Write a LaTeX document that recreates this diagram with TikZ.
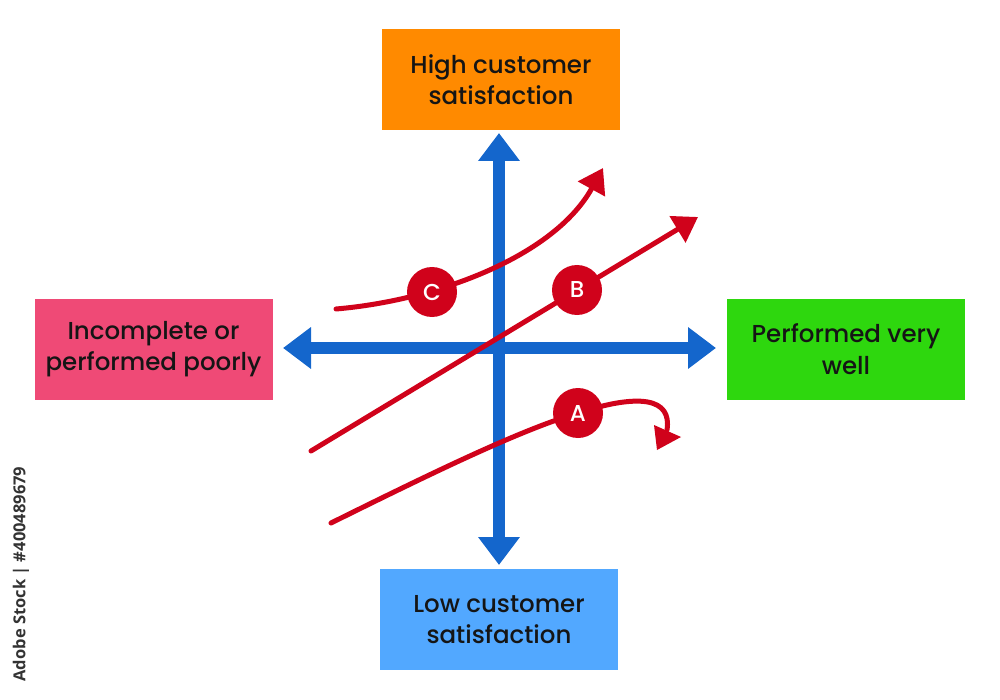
\documentclass[tikz,border=0pt]{standalone}
\usepackage{fontspec}
\setmainfont{Poppins Medium}
\newfontfamily\wmfont{Open Sans}
\usetikzlibrary{arrows.meta}
\definecolor{boxorange}{HTML}{FF8A00}
\definecolor{boxpink}{HTML}{EF4A76}
\definecolor{boxgreen}{HTML}{2ED70E}
\definecolor{boxblue}{HTML}{52A8FF}
\definecolor{axisblue}{HTML}{1466CC}
\definecolor{curvered}{HTML}{D0021B}
\definecolor{txt}{HTML}{151515}
\tikzset{
  labelbox/.style={minimum width=238pt, minimum height=101pt, inner sep=0pt, align=center,
    text=txt, font=\fontsize{24.5}{31.5}\selectfont},
  axisline/.style={line width=12pt, draw=axisblue,
    {Triangle[width=40pt,length=28pt]}-{Triangle[width=40pt,length=28pt]}},
  curve/.style={line width=5pt, draw=curvered, line cap=round},
  curvetip/.style={curve, -{Triangle[width=30pt,length=24pt]}},
  badge/.style={circle, fill=curvered, minimum size=50pt, inner sep=0pt, text=white,
    font=\fontsize{23}{23}\selectfont}
}
\begin{document}
\begin{tikzpicture}[x=1pt,y=-1pt]
\useasboundingbox (0,0) rectangle (1000,700);
% boxes
\node[labelbox, fill=boxorange] (high) at (501,79.5) {High customer\\satisfaction};
\node[labelbox, fill=boxpink] (poor) at (153.5,349) {Incomplete or\\performed poorly};
\node[labelbox, fill=boxgreen] (well) at (846,349) {Performed very\\well};
\node[labelbox, fill=boxblue] (low) at (499,619.5) {Low customer\\satisfaction};
% axes
\coordinate (vtop) at (499,133);
\coordinate (vbot) at (499,565);
\coordinate (hleft) at (283,348);
\coordinate (hright) at (716,348);
\draw[axisline] (vtop) -- (vbot);
\draw[axisline] (hleft) -- (hright);
% curve C
\coordinate (cs) at (336,309);
\coordinate (ce) at (603,168);
\draw[curvetip] (cs) .. controls (440,300) and (555,255) .. (ce);
\node[badge] (C) at (432,292) {C};
% curve B
\coordinate (bs) at (311,451);
\coordinate (be) at (698,217);
\draw[curvetip] (bs) -- (be);
\node[badge] (B) at (577,290) {B};
% curve A
\coordinate (as) at (331,523);
\coordinate (am) at (578,413);
\coordinate (ae) at (667,430);
\draw[curve] (as) .. controls (430,474) and (520,430) .. (am)
  .. controls (640,393) and (672,398) .. (ae);
\fill[curvered] (654,425) -- (681,437) -- (657,450) -- cycle;
\node[badge] (A) at (am) {A};
% stock id
\node[rotate=90, text=black!80, font=\wmfont\bfseries\fontsize{16.5}{16.5}\selectfont] (wm) at (21,574) {Adobe Stock | \#400489679};
\end{tikzpicture}
\end{document}
